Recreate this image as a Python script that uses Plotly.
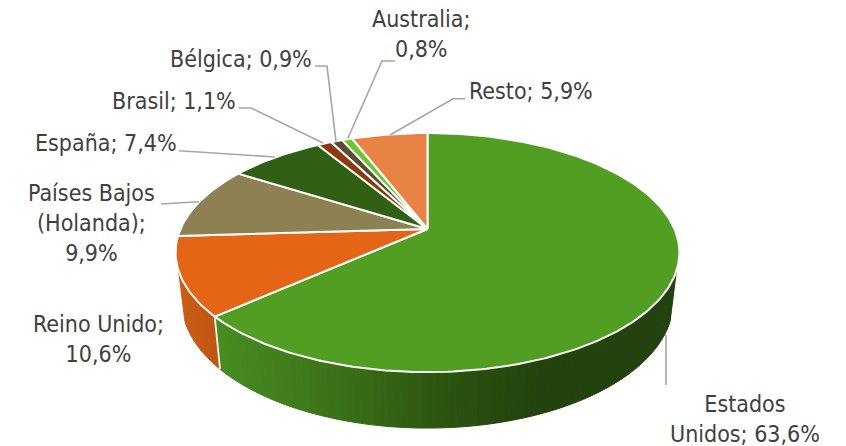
import math
import numpy as np
import plotly.graph_objects as go

categories = ["Estados Unidos", "Reino Unido", "Países Bajos (Holanda)", "España", "Brasil", "Bélgica", "Australia", "Resto"]
values = [63.6, 10.6, 9.9, 7.4, 1.1, 0.9, 0.8, 5.9]
label_texts = ["Estados<br>Unidos; 63,6%", "Reino Unido;<br>10,6%", "Países Bajos<br>(Holanda);<br>9,9%",
               "España; 7,4%", "Brasil; 1,1%", "Bélgica; 0,9%", "Australia;<br>0,8%", "Resto; 5,9%"]
colors = ["#529e22", "#e46515", "#8d8153", "#316014", "#8a3a0d", "#5a4c2e", "#66c92d", "#e98345"]

# label centres and leader waypoints, in page pixels
label_pos = [(745, 419), (98, 339), (91, 223), (105.5, 143), (173.5, 101), (241, 59), (421, 34), (531, 91)]
leaders = [
    [(666, 335), (666, 385)],
    None,
    [(199, 201.7), (161, 204)],
    [(275, 157), (179, 150.7)],
    [(323, 143), (251, 108), (239, 108)],
    [(336, 141.7), (327, 66), (315, 66)],
    [(348, 138), (382, 61), (395, 61)],
    [(390, 135), (453, 98.7), (465, 98.7)],
]

# projection of the tilted disc
CX, APEX_Y, R, S, K = 427.5, 229.0, 247.0, 114.9, 0.197
BOT_X_SCALE, BOT_Y_SCALE, BOT_APEX_Y = 0.975, 1.06, 276.4
FONT = "DejaVu Sans Condensed, DejaVu Sans"


def top(theta):
    u, v = np.sin(theta), np.cos(theta)
    w = 1 + K * v
    return CX + R * u / w, APEX_Y - S * v / w


def bottom(theta):
    u, v = np.sin(theta), np.cos(theta)
    w = 1 + K * v
    return CX + BOT_X_SCALE * R * u / w, BOT_APEX_Y - BOT_Y_SCALE * S * v / w


def lerp_hex(a, b, t):
    ca = [int(a[i:i + 2], 16) for i in (1, 3, 5)]
    cb = [int(b[i:i + 2], 16) for i in (1, 3, 5)]
    return "#" + "".join(f"{round(x + (y - x) * t):02x}" for x, y in zip(ca, cb))


total = sum(values)
edges = np.concatenate([[0], np.cumsum(values)]) / total * 2 * math.pi

fig = go.Figure()


def wall(t0, t1, n, shade):
    ts = np.linspace(t0, t1, n + 1)
    for a, b in zip(ts[:-1], ts[1:]):
        xa, ya = top(a)
        xb, yb = top(b)
        xc, yc = bottom(b)
        xd, yd = bottom(a)
        col = shade((xa + xb) / 2)
        fig.add_trace(go.Scatter(x=[xa, xb, xc, xd, xa], y=[ya, yb, yc, yd, ya], mode="lines",
                                 fill="toself", fillcolor=col, line=dict(color=col, width=1),
                                 hoverinfo="skip", showlegend=False))


def green_shade(x):
    if x < 300:
        return lerp_hex("#478d20", "#3f7a1b", (x - 215) / 85)
    if x < 460:
        return lerp_hex("#3f7a1b", "#2a5010", (x - 300) / 160)
    if x < 540:
        return lerp_hex("#2a5010", "#23420d", (x - 460) / 80)
    return "#23420d"


def orange_shade(x):
    return lerp_hex("#cb5d15", "#bf5512", (x - 180) / 35)


WALL_START, WALL_END = math.radians(110), math.radians(250)
wall(WALL_END, edges[1], 10, orange_shade)
wall(WALL_START, edges[1], 90, green_shade)

# white seam between the two wall pieces
sx0, sy0 = top(edges[1])
sx1, sy1 = bottom(edges[1])
fig.add_trace(go.Scatter(x=[sx0, sx1], y=[sy0, sy1], mode="lines", line=dict(color="#f4f4f0", width=1.8),
                         hoverinfo="skip", showlegend=False))

for i, name in enumerate(categories):
    ts = np.linspace(edges[i], edges[i + 1], max(4, int(values[i] * 4)))
    xs, ys = top(ts)
    fig.add_trace(go.Scatter(x=[CX, *xs, CX], y=[APEX_Y, *ys, APEX_Y], mode="lines", fill="toself",
                             fillcolor=colors[i], line=dict(color="#ffffff", width=2),
                             name=name, showlegend=False, hoverinfo="name"))

for pts in leaders:
    if pts:
        fig.add_trace(go.Scatter(x=[p[0] for p in pts], y=[p[1] for p in pts], mode="lines",
                                 line=dict(color="#a6a6a6", width=1.6), hoverinfo="skip", showlegend=False))

for text, (x, y) in zip(label_texts, label_pos):
    fig.add_annotation(x=x, y=y, text=text, showarrow=False, xanchor="center", yanchor="middle",
                       align="center", font=dict(family=FONT, size=23, color="#404040"))

fig.update_layout(
    width=846, height=446, margin=dict(l=0, r=0, t=0, b=0),
    paper_bgcolor="#ffffff", plot_bgcolor="#ffffff", showlegend=False,
    xaxis=dict(range=[0, 846], visible=False, fixedrange=True),
    yaxis=dict(range=[446, 0], visible=False, fixedrange=True),
)
fig.write_html("out.html", config=dict(displayModeBar=False),
               post_script="document.body.style.margin='0';document.body.style.overflow='hidden';")
